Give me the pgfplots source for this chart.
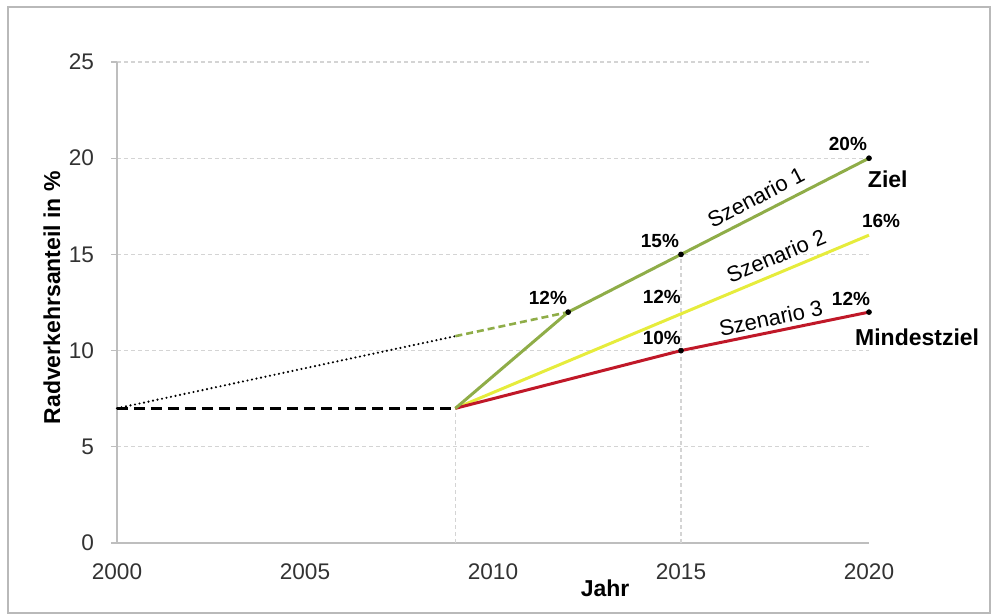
\documentclass[border=0pt]{standalone}
\usepackage{fontspec}
\setmainfont{Liberation Sans}
\usepackage{pgfplots}
\pgfplotsset{compat=1.18}
\definecolor{gridc}{RGB}{212,212,212}
\definecolor{axisc}{RGB}{190,190,190}
\definecolor{szgreen}{RGB}{143,173,72}
\definecolor{szyellow}{RGB}{230,236,60}
\definecolor{szred}{RGB}{192,24,40}
\definecolor{tickc}{RGB}{50,50,50}
\newcommand{\pct}{\fontsize{9.5}{11}\selectfont\bfseries}
\newcommand{\szn}{\fontsize{11}{13}\selectfont}
\newcommand{\lbl}{\fontsize{11.5}{13}\selectfont\bfseries}
\begin{document}
\begin{tikzpicture}
\useasboundingbox (-58.5pt,-36pt) rectangle (440pt,271.5pt);
\begin{axis}[
  scale only axis, width=376pt, height=240.5pt,
  xmin=2000, xmax=2020, ymin=0, ymax=25,
  axis x line=bottom, axis y line=left,
  axis line style={-, axisc, line width=0.6pt},
  xtick={2000,2005,...,2020}, ytick={0,5,...,25},
  x tick style={draw=none}, y tick style={axisc, line width=0.6pt},
  tick align=outside, major tick length=3pt,
  ymajorgrids, grid style={gridc, dash pattern=on 2pt off 1.5pt, line width=0.6pt},
  /pgf/number format/1000 sep={}, /pgf/number format/assume math mode=true,
  ticklabel style={font=\fontsize{11.3}{13}\selectfont, text=tickc},
  yticklabel style={xshift=-5pt}, xticklabel style={yshift=-4pt},
  xlabel={Jahr}, ylabel={Radverkehrsanteil in \%},
  xlabel style={font=\lbl, at={(axis description cs:0.649,-0.0936)}, anchor=center},
  ylabel style={font=\lbl, at={(axis description cs:-0.0864,0.51)}, anchor=center},
  clip=false,
]
% drop lines
\addplot[gridc, line width=0.8pt, dash pattern=on 2pt off 1.5pt] coordinates {(2009,0) (2009,7)};
\addplot[gridc, line width=0.8pt, dash pattern=on 2pt off 1.5pt] coordinates {(2015,0) (2015,15)};
% history
\addplot[black, line width=1.5pt, dash pattern=on 5.5pt off 3pt] coordinates {(2000,7) (2009,7)};
\addplot[black, line width=1.2pt, line cap=round, dash pattern=on 0pt off 2.3pt] coordinates {(2000,7) (2009,10.75)};
\addplot[szgreen, line width=1.3pt, dash pattern=on 3.5pt off 2pt] coordinates {(2009,10.75) (2012,12)};
% scenarios
\addplot[szyellow, line width=1.5pt] coordinates {(2009,7) (2020,16)};
\addplot[szred, line width=1.5pt] coordinates {(2009,7) (2015,10) (2020,12)};
\addplot[szgreen, line width=1.5pt] coordinates {(2009,7) (2012,12) (2015,15) (2020,20)};
\addplot[only marks, mark=*, mark size=1.2pt, black] coordinates {(2012,12) (2015,15) (2020,20) (2015,10) (2020,12)};
% labels
\node[font=\pct] at (axis cs:2019.44,20.74) {20\%};
\node[font=\lbl] at (axis cs:2020.5,18.92) {Ziel};
\node[font=\pct] at (axis cs:2020.32,16.74) {16\%};
\node[font=\pct] at (axis cs:2014.44,15.70) {15\%};
\node[font=\szn, rotate=27.3, inner sep=0pt] at (axis cs:2016.99,17.98) {Szenario 1};
\node[font=\szn, rotate=22.6, inner sep=0pt] at (axis cs:2017.53,14.92) {Szenario 2};
\node[font=\pct] at (axis cs:2014.49,12.79) {12\%};
\node[font=\pct] at (axis cs:2011.46,12.73) {12\%};
\node[font=\szn, rotate=12, inner sep=0pt] at (axis cs:2017.39,11.69) {Szenario 3};
\node[font=\pct] at (axis cs:2019.52,12.68) {12\%};
\node[font=\pct] at (axis cs:2014.49,10.66) {10\%};
\node[font=\lbl] at (axis cs:2021.28,10.71) {Mindestziel};
\end{axis}
\draw[gray!55, line width=0.7pt] (-54.5pt,-35pt) rectangle (436.5pt,268pt);
\end{tikzpicture}
\end{document}
